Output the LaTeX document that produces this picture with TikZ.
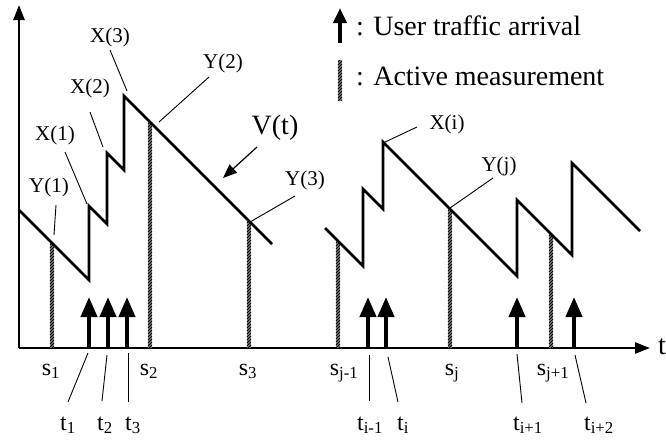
\documentclass[tikz,border=0pt]{standalone}
\usepackage{fontspec}
\setmainfont{Liberation Serif}
\usetikzlibrary{arrows.meta}

% hatched bar of an active measurement: x, top y, bottom y
\newcommand\measbar[3]{%
  \begin{scope}
    \clip (#1-2.2,#2) rectangle (#1+2.2,#3);
    \fill[gray!45] (#1-2.2,#2) rectangle (#1+2.2,#3);
    \foreach \k in {-3,0,...,260}
      \draw[line width=1.2pt] (#1-2.2,#2+\k+2.2) -- (#1+2.2,#2+\k-2.2);
  \end{scope}}

\begin{document}
\begin{tikzpicture}[x=1pt,y=-1pt,
  axis/.style={line width=2.4pt, -{Triangle[length=15pt,width=11pt]}},
  wave/.style={line width=2.6pt, line join=miter},
  leader/.style={line width=0.9pt},
  arrival/.style={line width=4pt, -{Triangle[length=20pt,width=16pt]}},
  lbl/.style={font=\fontsize{21}{25}\selectfont, inner sep=0pt},
  tlbl/.style={font=\fontsize{24}{28}\selectfont, inner sep=0pt, anchor=base},
  big/.style={font=\fontsize{28}{32}\selectfont, inner sep=0pt},
]
\useasboundingbox (0,0) rectangle (666,439);

% axes
\coordinate (O) at (19,348);
\coordinate (ytop) at (19,5);
\coordinate (xend) at (650,348);
\draw[axis] (O) -- (ytop);
\draw[axis] (O) -- (xend);
\node[big, anchor=west] (tlab) at (658,347) {t};

% measurement bars
\measbar{52}{243}{348}
\measbar{150}{122}{348}
\measbar{249}{221}{348}
\measbar{338}{241}{348}
\measbar{450}{209}{348}
\measbar{551}{234}{348}

% virtual delay V(t)
\draw[wave] (19,210) -- (89,280) -- (89,206) -- (107,224) -- (107,153)
  -- (124,170) -- (124,96) -- (272,244);
\draw[wave] (325,228) -- (363,266) -- (363,189) -- (383,209) -- (383,142)
  -- (517,276) -- (517,200) -- (572,255) -- (572,163) -- (640,231);

% user traffic arrivals
\foreach \n/\x in {a1/89, a2/108, a3/127, a4/368, a5/386, a6/517, a7/574} {
  \coordinate (\n b) at (\x,348);
  \coordinate (\n t) at (\x,297);
  \draw[arrival] (\n b) -- (\n t);
}

% value labels
\node[lbl] (Y1) at (49,187) {Y(1)};
\node[lbl] (X1) at (55,135) {X(1)};
\node[lbl] (X2) at (90,88) {X(2)};
\node[lbl] (X3) at (110,37) {X(3)};
\node[lbl] (Y2) at (223,63) {Y(2)};
\node[lbl] (Y3) at (305,180) {Y(3)};
\node[lbl] (Xi) at (447,124) {X(i)};
\node[lbl] (Yj) at (499,166) {Y(j)};
\node[big] (V) at (275,128) {V(t)};

% leader ends
\foreach \n/\ax/\ay/\bx/\by in {
  ly1/56/205/54/235, lx1/65/152/87/204, lx2/90/112/103/147,
  lx3/110/50/127/91, ly2/209/77/159/122, ly3/295/196/250/222,
  lxi/417/127/383/143, lyj/493/178/450/208} {
  \coordinate (\n a) at (\ax,\ay);
  \coordinate (\n b) at (\bx,\by);
  \draw[leader] (\n a) -- (\n b);
}
\coordinate (va) at (257,147);
\coordinate (vb) at (223,178);
\draw[line width=1.2pt, -{Triangle[length=14pt,width=11pt]}] (va) -- (vb);

% time labels on the axis
\node[tlbl] (s1) at (51,375) {s\textsubscript{1}};
\node[tlbl] (s2) at (149,375) {s\textsubscript{2}};
\node[tlbl] (s3) at (248,375) {s\textsubscript{3}};
\node[tlbl] (sjm) at (344,375) {s\textsubscript{j-1}};
\node[tlbl] (sj) at (452,375) {s\textsubscript{j}};
\node[tlbl] (sjp) at (553,375) {s\textsubscript{j+1}};

\node[tlbl] (t1) at (68,430) {t\textsubscript{1}};
\node[tlbl] (t2) at (105,430) {t\textsubscript{2}};
\node[tlbl] (t3) at (133,430) {t\textsubscript{3}};
\node[tlbl] (tim) at (370,430) {t\textsubscript{i-1}};
\node[tlbl] (ti) at (403,430) {t\textsubscript{i}};
\node[tlbl] (tip) at (528,430) {t\textsubscript{i+1}};
\node[tlbl] (tipp) at (599,430) {t\textsubscript{i+2}};

\foreach \n/\ax/\ay/\bx/\by in {
  lt1/88/353/68/402, lt2/107/355/102/401, lt3/128/353/128/402,
  ltim/369/355/369/401, lti/388/357/398/402, ltip/517/354/522/403,
  ltipp/575/355/586/403} {
  \coordinate (\n a) at (\ax,\ay);
  \coordinate (\n b) at (\bx,\by);
  \draw[leader] (\n a) -- (\n b);
}

% legend
\coordinate (lga) at (340,43);
\coordinate (lgb) at (340,8);
\draw[line width=4pt, -{Triangle[length=15pt,width=13pt]}] (lga) -- (lgb);
\node[big, anchor=base west] (legA) at (356,35) {: User traffic arrival};
\measbar{340}{60}{100}
\node[big, anchor=base west] (legM) at (356,85) {: Active measurement};
\end{tikzpicture}
\end{document}
